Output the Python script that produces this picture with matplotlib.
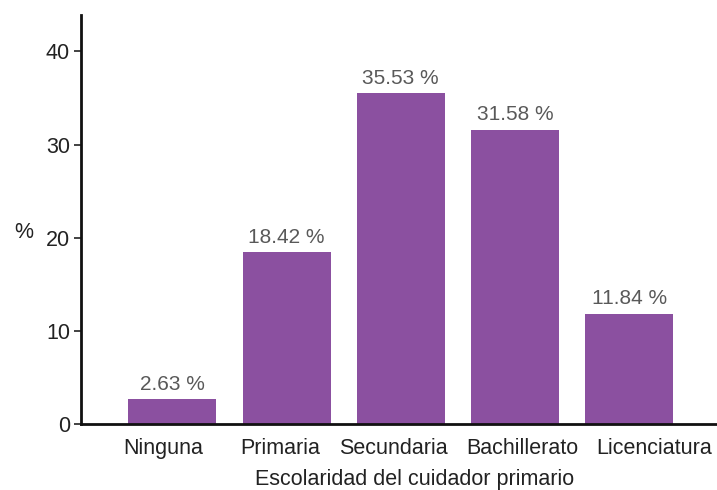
import matplotlib
matplotlib.use("Agg")
import matplotlib.pyplot as plt
from matplotlib.transforms import ScaledTranslation

# ── Data ───────────────────────────────────────────────────────────────────────
categories = ["Ninguna", "Primaria", "Secundaria", "Bachillerato", "Licenciatura"]
values     = [2.63, 18.42, 35.53, 31.58, 11.84]
yticks     = [0, 10, 20, 30, 40]

BAR_COLOR = "#8B50A0"
TEXT_GRAY = "#595959"
TEXT_DARK = "#222222"
FS = 15.5

# horizontal nudge of category labels (px), as in the source layout
label_shift = [-9, -6.5, -7, 7, 25.5]

plt.rcParams["font.family"] = ["Liberation Sans", "DejaVu Sans"]

fig = plt.figure(figsize=(7.17, 4.90), dpi=100)
ax = fig.add_axes([0.113, 0.135, 0.887, 0.834])

x = range(len(categories))
bars = ax.bar(x, values, width=0.77, color=BAR_COLOR)

for rect, v in zip(bars, values):
    ax.annotate(f"{v:.2f} %", (rect.get_x() + rect.get_width() / 2, v),
                xytext=(0, 4), textcoords="offset points",
                ha="center", va="bottom", fontsize=15, color=TEXT_GRAY)

ax.set_xlim(-0.8, 4.77)
ax.set_ylim(0, 43.9)
ax.set_xticks(list(x))
ax.set_xticklabels(categories, fontsize=FS, color=TEXT_DARK)
ax.set_yticks(yticks)
ax.set_yticklabels([str(t) for t in yticks], fontsize=FS, color=TEXT_DARK)
ax.tick_params(axis="x", length=0, pad=10)
ax.tick_params(axis="y", length=5, width=1.2, color=TEXT_DARK, pad=3)

for lbl, dx in zip(ax.get_xticklabels(), label_shift):
    lbl.set_transform(lbl.get_transform() + ScaledTranslation(dx / 100, 0, fig.dpi_scale_trans))

ax.set_xlabel("Escolaridad del cuidador primario", fontsize=FS, color=TEXT_DARK, va="center")
ax.xaxis.set_label_coords(0.5 + 15.5 / 636, -0.136)
ax.set_ylabel("%", fontsize=FS, color=TEXT_DARK, rotation=0, va="center", ha="center")
ax.yaxis.set_label_coords(-0.0904, 0.469)

for side in ("top", "right"):
    ax.spines[side].set_visible(False)
for side in ("left", "bottom"):
    ax.spines[side].set_linewidth(2)
    ax.spines[side].set_color("#111111")

fig.savefig("out.png", dpi=100)
